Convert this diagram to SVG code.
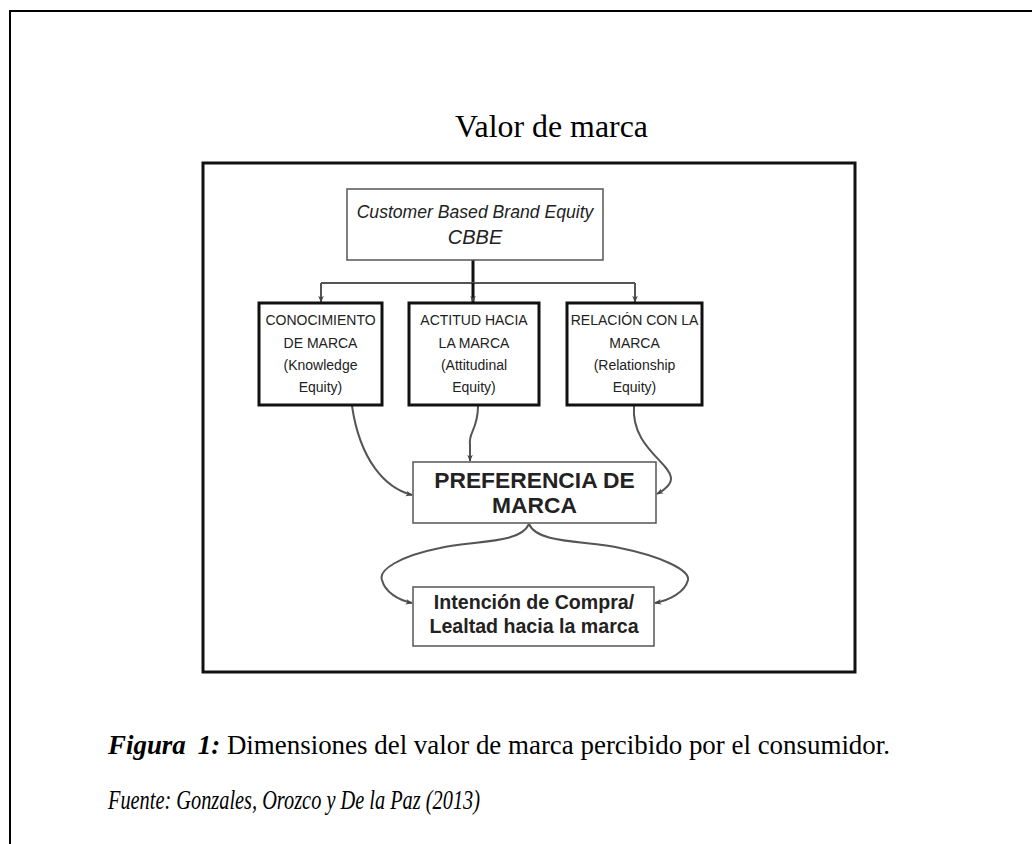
<svg xmlns="http://www.w3.org/2000/svg" width="1032" height="844" viewBox="0 0 1032 844">
<defs>
<style>
.serif{font-family:"Liberation Serif","Times New Roman",serif;fill:#000}
.sans{font-family:"Liberation Sans",Arial,sans-serif;fill:#222}
.box{fill:#fff;stroke:#111;stroke-width:3}
.thin{fill:#fff;stroke:#555;stroke-width:1.5}
.conn{fill:none;stroke:#555;stroke-width:2}
.dim{font-size:14px;text-anchor:middle}
</style>
<marker id="ah" viewBox="0 0 10 10" refX="9" refY="5" markerWidth="7" markerHeight="7" orient="auto" markerUnits="userSpaceOnUse">
<path d="M0,1 L10,5 L0,9 L3,5 Z" fill="#444"/>
</marker>
</defs>
<rect width="1032" height="844" fill="#fff"/>
<g id="page-border" fill="none" stroke="#000" stroke-width="2">
<path d="M10,844 L10,11 L1032,11"/>
</g>
<text class="serif" x="455" y="137" font-size="31" textLength="193" lengthAdjust="spacingAndGlyphs">Valor de marca</text>
<g id="frame"><rect x="203" y="163" width="652" height="509" fill="none" stroke="#111" stroke-width="3"/></g>
<g id="connectors">
<path d="M473,260 L473,283" stroke="#111" stroke-width="3" fill="none"/>
<path class="conn" d="M321,283 L635,283"/>
<path class="conn" d="M321,283 L321,302" marker-end="url(#ah)"/>
<path d="M473,283 L473,302" stroke="#111" stroke-width="3" fill="none" marker-end="url(#ah)"/>
<path class="conn" d="M635,283 L635,302" marker-end="url(#ah)"/>
<path class="conn" d="M352,406 C360,460 385,488 412,495" marker-end="url(#ah)"/>
<path class="conn" d="M478,406 C478,430 468,432 470,445 L470,461" marker-end="url(#ah)"/>
<path class="conn" d="M634,406 C630,460 700,470 657,494" marker-end="url(#ah)"/>
<path class="conn" d="M529,524 C520,545 470,540 440,548 C400,556 378,570 382,580 C385,592 398,600 412,603" marker-end="url(#ah)"/>
<path class="conn" d="M529,524 C538,545 590,540 620,548 C660,556 690,570 688,580 C685,592 670,600 655,603" marker-end="url(#ah)"/>
</g>
<g id="node-cbbe">
<rect class="thin" x="347" y="189" width="256" height="71"/>
<text class="sans" x="475" y="218" font-size="17.6" font-style="italic" text-anchor="middle">Customer Based Brand Equity</text>
<text class="sans" x="475" y="244" font-size="20" font-style="italic" text-anchor="middle">CBBE</text>
</g>
<g id="node-conocimiento">
<rect class="box" x="259" y="303" width="123" height="102"/>
<text class="sans dim" x="320.5" y="325">CONOCIMIENTO</text>
<text class="sans dim" x="320.5" y="348">DE MARCA</text>
<text class="sans dim" x="320.5" y="370" font-size="13">(Knowledge</text>
<text class="sans dim" x="320.5" y="392" font-size="13">Equity)</text>
</g>
<g id="node-actitud">
<rect class="box" x="409" y="303" width="130" height="102"/>
<text class="sans dim" x="474" y="325">ACTITUD HACIA</text>
<text class="sans dim" x="474" y="348">LA MARCA</text>
<text class="sans dim" x="474" y="370" font-size="13">(Attitudinal</text>
<text class="sans dim" x="474" y="392" font-size="13">Equity)</text>
</g>
<g id="node-relacion">
<rect class="box" x="567" y="303" width="135" height="102"/>
<text class="sans dim" x="634.5" y="325">RELACIÓN CON LA</text>
<text class="sans dim" x="634.5" y="348">MARCA</text>
<text class="sans dim" x="634.5" y="370" font-size="13">(Relationship</text>
<text class="sans dim" x="634.5" y="392" font-size="13">Equity)</text>
</g>
<g id="node-preferencia">
<rect class="thin" x="413" y="462" width="243" height="61"/>
<text class="sans" x="534.5" y="488" font-size="22.8" font-weight="bold" text-anchor="middle">PREFERENCIA DE</text>
<text class="sans" x="534.5" y="513" font-size="22.8" font-weight="bold" text-anchor="middle">MARCA</text>
</g>
<g id="node-intencion">
<rect class="thin" x="413" y="587" width="241" height="59"/>
<text class="sans" x="534" y="609" font-size="19.6" font-weight="bold" text-anchor="middle">Intención de Compra/</text>
<text class="sans" x="534" y="633" font-size="19.6" font-weight="bold" text-anchor="middle">Lealtad hacia la marca</text>
</g>
<text class="serif" x="108" y="754" font-size="27" textLength="782" lengthAdjust="spacingAndGlyphs"><tspan font-weight="bold" font-style="italic">Figura</tspan><tspan font-weight="bold" font-style="italic" dx="12">1:</tspan> Dimensiones del valor de marca percibido por el consumidor.</text>
<text class="serif" x="108" y="809" font-size="27" font-style="italic" textLength="372" lengthAdjust="spacingAndGlyphs">Fuente: Gonzales, Orozco y De la Paz (2013)</text>
</svg>
